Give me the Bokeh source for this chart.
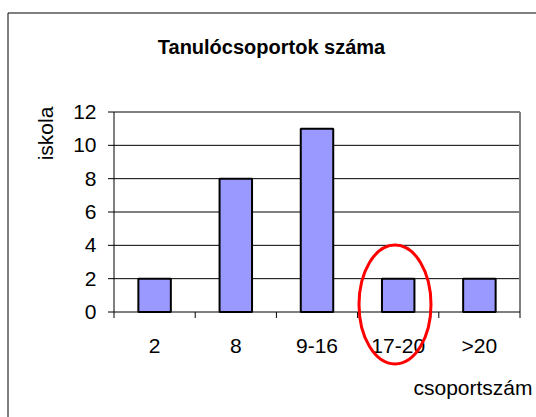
import numpy as np
from bokeh.plotting import figure
from bokeh.models import Range1d, ColumnDataSource, BoxAnnotation
from bokeh.core.properties import value
from bokeh.embed import file_html
from bokeh.resources import INLINE

# ---- data ----
categories = ["2", "8", "9-16", "17-20", ">20"]
counts = [2, 8, 11, 2, 2]
y_ticks = [0, 2, 4, 6, 8, 10, 12]
title_text = "Tanulócsoportok száma"
y_label = "iskola"
x_label = "csoportszám"
highlight = "17-20"

FONT = "Liberation Sans"

# ---- layout constants (canvas pixels) ----
W, H = 536, 417
F_LEFT, F_RIGHT, F_TOP, F_BOTTOM = 113.5, 519.5, 111.5, 311.5
n = len(categories)
ymax = y_ticks[-1]
PX_X = (F_RIGHT - F_LEFT) / n
PX_Y = (F_BOTTOM - F_TOP) / ymax


def dx(px):
    return (px - F_LEFT) / PX_X


def dy(py):
    return (F_BOTTOM - py) / PX_Y


# the frame covers the whole canvas; the chart's own plot area is [0, n] x [0, ymax]
p = figure(width=W, height=H, output_backend="svg", toolbar_location=None,
           x_range=Range1d(dx(0), dx(W)), y_range=Range1d(dy(H), dy(0)),
           min_border=0, tools="")
p.title.visible = False
p.axis.visible = False
p.grid.visible = False
p.outline_line_color = None
p.background_fill_color = "white"
p.border_fill_color = "white"

# outer chart border
p.add_layout(BoxAnnotation(left=dx(7.5), right=dx(W + 20), top=dy(12.5), bottom=dy(H + 20),
                           fill_color=None, fill_alpha=0, line_color="black",
                           line_alpha=1, line_width=1))

# horizontal grid lines
grid_y = y_ticks[1:-1]
p.segment(x0=[0] * len(grid_y), x1=[n] * len(grid_y), y0=grid_y, y1=grid_y,
          line_color="black", line_width=1)

# plot-area border (top and right, gray)
p.segment(x0=[0, n], x1=[n, n], y0=[ymax, 0], y1=[ymax, ymax],
          line_color="#808080", line_width=2)

# bars
centers = [i + 0.5 for i in range(n)]
src = ColumnDataSource(dict(x=centers, top=counts, cat=categories))
p.vbar(x="x", top="top", width=0.40, bottom=0, source=src,
       fill_color="#9999FF", line_color="black", line_width=2)

# axis lines
p.segment(x0=[0, 0], x1=[n, 0], y0=[0, 0], y1=[0, ymax],
          line_color="black", line_width=1)

# y ticks and labels
tick_len_x = 6 / PX_X
tick_len_y = 6 / PX_Y
p.segment(x0=[-tick_len_x] * len(y_ticks), x1=[0] * len(y_ticks), y0=y_ticks, y1=y_ticks,
          line_color="black", line_width=1)
p.text(x=[dx(96)] * len(y_ticks), y=y_ticks, text=[str(v) for v in y_ticks],
       text_font=value(FONT), text_font_size="21px", text_color="black",
       text_align="right", text_baseline="middle")

# x ticks (at category boundaries) and labels
bounds = list(range(n + 1))
p.segment(x0=bounds, x1=bounds, y0=[0] * len(bounds), y1=[-tick_len_y] * len(bounds),
          line_color="black", line_width=1)
p.text(x=centers, y=[dy(345)] * n, text=categories,
       text_font=value(FONT), text_font_size="21px", text_color="black",
       text_align="center", text_baseline="middle")

# title and axis titles
p.text(x=[dx(271)], y=[dy(46)], text=[title_text], text_font=value(FONT),
       text_font_size="20px", text_font_style="bold", text_color="black",
       text_align="center", text_baseline="alphabetic")
p.text(x=[dx(45)], y=[dy(133)], text=[y_label], text_font=value(FONT),
       text_font_size="21px", text_color="black", angle=np.pi / 2,
       text_align="center", text_baseline="middle")
p.text(x=[dx(413)], y=[dy(387)], text=[x_label], text_font=value(FONT),
       text_font_size="21px", text_color="black",
       text_align="left", text_baseline="alphabetic")

# red ellipse around the highlighted category
hi = categories.index(highlight)
p.ellipse(x=[centers[hi] + dx(394.5) - dx(F_LEFT + PX_X * centers[hi])], y=[dy(304)],
          width=[72 / PX_X], height=[119 / PX_Y],
          fill_color=None, line_color="red", line_width=3)

open("out.html", "w").write(file_html(p, INLINE))
